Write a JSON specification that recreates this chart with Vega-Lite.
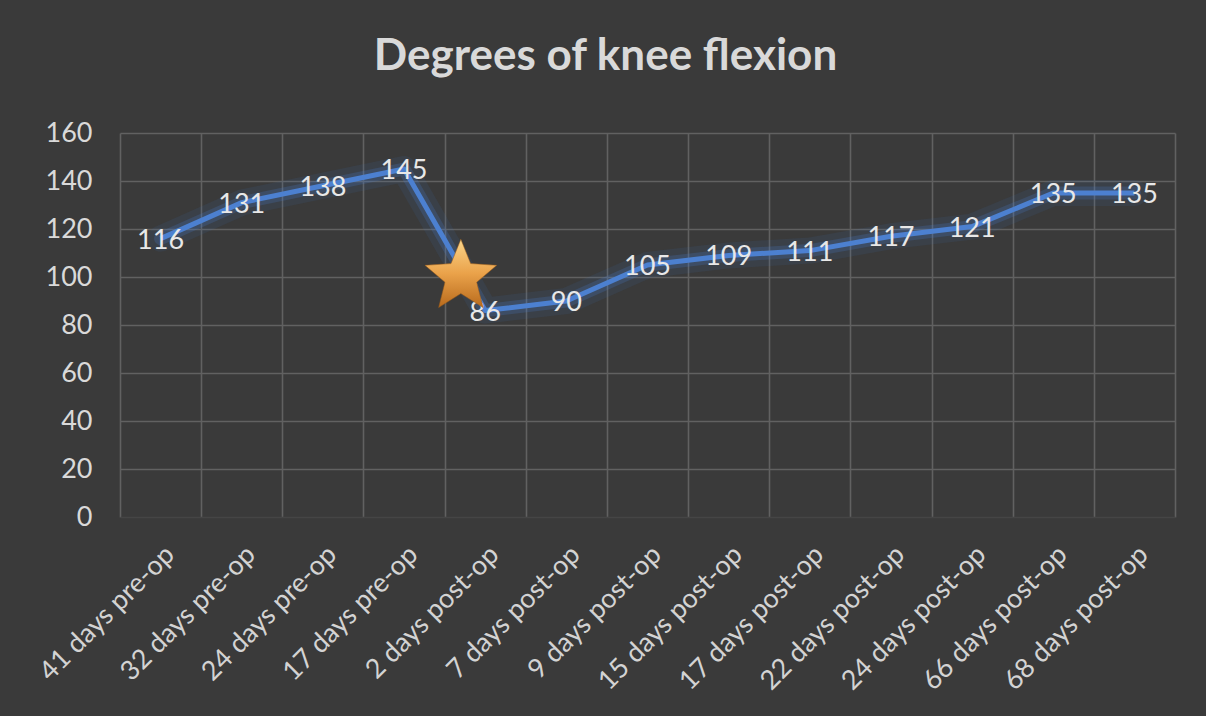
{
  "$schema": "https://vega.github.io/schema/vega-lite/v6.json",
  "autosize": "none",
  "width": 1055,
  "height": 384,
  "padding": {"left": 120, "top": 133, "right": 31, "bottom": 199},
  "background": "#3a3a3a",
  "title": {
    "text": "Degrees of knee flexion",
    "font": "Lato",
    "fontSize": 44,
    "fontWeight": "bold",
    "color": "#d9d9d9",
    "anchor": "middle",
    "baseline": "alphabetic",
    "offset": 5,
    "dx": -42
  },
  "config": {
    "view": {"stroke": null},
    "font": "Lato"
  },
  "data": {
    "values": [
      {"label": "41 days pre-op", "flexion": 116},
      {"label": "32 days pre-op", "flexion": 131},
      {"label": "24 days pre-op", "flexion": 138},
      {"label": "17 days pre-op", "flexion": 145},
      {"label": "2 days post-op", "flexion": 86, "event": "Surgery", "eventLevel": 100},
      {"label": "7 days post-op", "flexion": 90},
      {"label": "9 days post-op", "flexion": 105},
      {"label": "15 days post-op", "flexion": 109},
      {"label": "17 days post-op", "flexion": 111},
      {"label": "22 days post-op", "flexion": 117},
      {"label": "24 days post-op", "flexion": 121},
      {"label": "66 days post-op", "flexion": 135},
      {"label": "68 days post-op", "flexion": 135}
    ]
  },
  "encoding": {
    "x": {
      "field": "label",
      "type": "nominal",
      "sort": null,
      "scale": {"type": "band", "paddingInner": 0, "paddingOuter": 0},
      "axis": {
        "title": null,
        "domain": false,
        "ticks": false,
        "grid": true,
        "tickBand": "extent",
        "gridColor": "#616161",
        "gridWidth": 1.6,
        "labelAngle": -45,
        "labelFont": "Lato",
        "labelFontSize": 27,
        "labelColor": "#d3d3d3",
        "labelPadding": 24,
        "labelLimit": 400
      }
    },
    "y": {
      "field": "flexion",
      "type": "quantitative",
      "scale": {"domain": [0, 160], "nice": false, "zero": true},
      "axis": {
        "title": null,
        "domain": false,
        "ticks": false,
        "values": [0, 20, 40, 60, 80, 100, 120, 140, 160],
        "gridColor": {"condition": {"test": "datum.value === 0", "value": "#454545"}, "value": "#616161"},
        "gridWidth": 1.6,
        "labelFont": "Lato",
        "labelFontSize": 27,
        "labelColor": "#d9d9d9",
        "labelPadding": 28
      }
    }
  },
  "layer": [
    {"mark": {"type": "line", "color": "#3f72c0", "strokeWidth": 26, "opacity": 0.1, "strokeJoin": "round", "strokeCap": "round"}},
    {"mark": {"type": "line", "color": "#4a7dcc", "strokeWidth": 13, "opacity": 0.22, "strokeJoin": "round", "strokeCap": "round"}},
    {"mark": {"type": "line", "color": "#4c80d0", "strokeWidth": 5, "strokeJoin": "round"}},
    {
      "mark": {"type": "text", "font": "Lato", "fontSize": 27, "color": "#e8e8e8", "align": "center", "baseline": "middle", "dy": 2},
      "encoding": {"text": {"field": "flexion", "type": "quantitative"}}
    },
    {
      "transform": [{"filter": "datum.event === 'Surgery'"}],
      "mark": {
        "type": "point",
        "filled": true,
        "shape": "M0,-1L0.26,-0.355L0.951,-0.309L0.42,0.137L0.588,0.809L0,0.44L-0.588,0.809L-0.42,0.137L-0.951,-0.309L-0.26,-0.355Z",
        "size": 5700,
        "opacity": 1,
        "color": {
          "gradient": "linear",
          "x1": 0, "y1": 0, "x2": 0, "y2": 1,
          "stops": [
            {"offset": 0, "color": "#fbd68a"},
            {"offset": 0.5, "color": "#eaa24a"},
            {"offset": 1, "color": "#b86a1c"}
          ]
        },
        "stroke": "#9a5a18",
        "strokeWidth": 0.5
      },
      "encoding": {
        "x": {"field": "label", "type": "nominal", "sort": null, "bandPosition": 0.2},
        "y": {"field": "eventLevel", "type": "quantitative"}
      }
    }
  ]
}
